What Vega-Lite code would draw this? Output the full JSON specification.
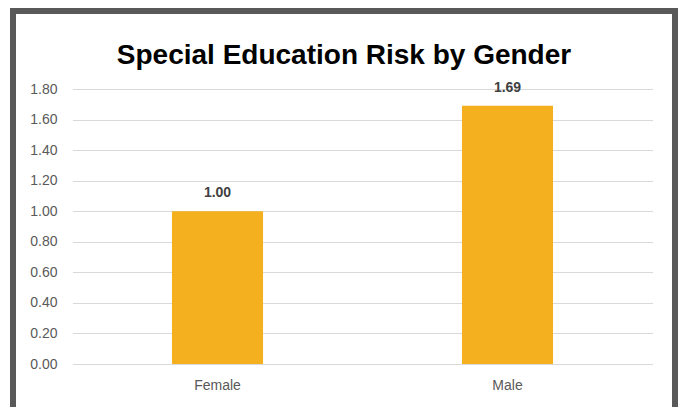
{
  "$schema": "https://vega.github.io/schema/vega-lite/v6.json",
  "width": 662,
  "height": 396,
  "autosize": {"type": "none"},
  "padding": {"left": 13, "top": 11, "right": 6, "bottom": 0},
  "background": "white",
  "title": {
    "text": "Special Education Risk by Gender",
    "orient": "top",
    "anchor": "middle",
    "frame": "group",
    "offset": -81,
    "baseline": "alphabetic",
    "font": "Liberation Sans",
    "fontSize": 28,
    "fontWeight": "bold",
    "color": "#000000"
  },
  "config": {
    "view": {
      "stroke": "#595959",
      "strokeWidth": 6,
      "strokeDash": [1058, 662, 396],
      "strokeCap": "square"
    },
    "font": "Liberation Sans"
  },
  "data": {
    "values": [
      {"gender": "Female", "risk": 1.00},
      {"gender": "Male", "risk": 1.69}
    ]
  },
  "encoding": {
    "x": {
      "field": "gender",
      "type": "nominal",
      "sort": null,
      "scale": {"range": [59.5, 639.5], "paddingInner": 0.686, "paddingOuter": 0.343},
      "axis": {
        "title": null,
        "orient": "bottom",
        "offset": -43,
        "domain": false,
        "ticks": false,
        "grid": false,
        "labelAngle": 0,
        "labelPadding": 14,
        "labelFontSize": 14,
        "labelColor": "#595959",
        "labelFont": "Liberation Sans"
      }
    },
    "y": {
      "field": "risk",
      "type": "quantitative",
      "scale": {"domain": [0, 1.8], "range": [353, 78], "nice": false, "zero": true},
      "axis": {
        "title": null,
        "orient": "left",
        "offset": -59.5,
        "values": [0, 0.2, 0.4, 0.6, 0.8, 1.0, 1.2, 1.4, 1.6, 1.8],
        "format": ".2f",
        "domain": false,
        "ticks": false,
        "grid": true,
        "gridColor": "#D9D9D9",
        "gridWidth": 1,
        "labelPadding": 15.5,
        "labelFontSize": 14,
        "labelColor": "#595959",
        "labelFont": "Liberation Sans"
      }
    }
  },
  "layer": [
    {
      "mark": {"type": "bar", "color": "#F5B01F"}
    },
    {
      "mark": {
        "type": "text",
        "baseline": "alphabetic",
        "dy": -14,
        "fontSize": 14,
        "fontWeight": "bold",
        "color": "#404040",
        "font": "Liberation Sans"
      },
      "encoding": {
        "text": {"field": "risk", "type": "quantitative", "format": ".2f"}
      }
    }
  ]
}
